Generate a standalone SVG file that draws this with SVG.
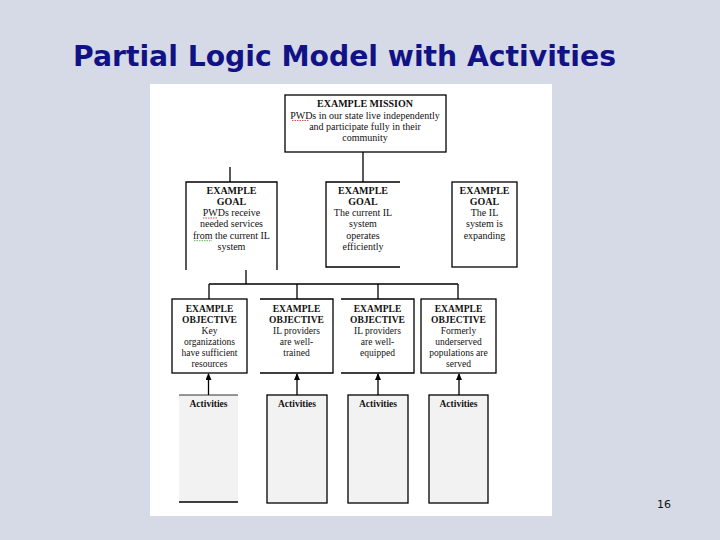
<svg xmlns="http://www.w3.org/2000/svg" width="720" height="540" viewBox="0 0 720 540">
<defs>
<style>
.t{font-family:"Liberation Serif","Times New Roman",serif;font-size:10px;fill:#111;text-anchor:middle}
.b{font-weight:bold}
.o{font-size:9.5px}
.ln{stroke:#000;stroke-width:1.3;fill:none}
.box{stroke:#000;stroke-width:1.3;fill:#fff}
.act{fill:#f2f2f2}
.sq{stroke:#d22;stroke-width:0.8;fill:none;stroke-dasharray:1.5 1}
</style>
<marker id="ah" viewBox="0 0 7 6" refX="6" refY="3" markerWidth="7" markerHeight="6" orient="auto" markerUnits="userSpaceOnUse">
<path d="M0,0 L7,3 L0,6 Z" fill="#000"/>
</marker>
</defs>
<rect x="0" y="0" width="720" height="540" fill="#d6dae6"/>
<text x="73" y="66" font-family="Tahoma,'DejaVu Sans',sans-serif" font-weight="bold" font-size="28" fill="#121287" textLength="543" lengthAdjust="spacingAndGlyphs">Partial Logic Model with Activities</text>
<rect x="150" y="84" width="402" height="432" fill="#fff"/>

<g id="connectors">
<line class="ln" x1="363" y1="152" x2="363" y2="182"/>
<line class="ln" x1="230" y1="167" x2="230" y2="182"/>
<line class="ln" x1="246" y1="270" x2="246" y2="284"/>
<line class="ln" x1="209" y1="284" x2="458" y2="284"/>
<line class="ln" x1="209" y1="284" x2="209" y2="299"/>
<line class="ln" x1="297" y1="284" x2="297" y2="299"/>
<line class="ln" x1="378" y1="284" x2="378" y2="299"/>
<line class="ln" x1="458" y1="284" x2="458" y2="299"/>
<line class="ln" x1="208.5" y1="395" x2="208.5" y2="374" marker-end="url(#ah)"/>
<line class="ln" x1="297" y1="395" x2="297" y2="374" marker-end="url(#ah)"/>
<line class="ln" x1="378" y1="395" x2="378" y2="374" marker-end="url(#ah)"/>
<line class="ln" x1="459" y1="395" x2="459" y2="374" marker-end="url(#ah)"/>
</g>

<g id="mission">
<rect class="box" x="285" y="95" width="161" height="57"/>
<text class="t b" x="365" y="106.5">EXAMPLE MISSION</text>
<text class="t" x="365" y="118.5">PWDs in our state live independently</text>
<text class="t" x="365" y="129.5">and participate fully in their</text>
<text class="t" x="365" y="140.5">community</text>
<path class="sq" d="M292,120.5 H309"/>
</g>

<g id="goal1">
<path class="ln" d="M186,270 V182 H277 V270"/>
<text class="t b" x="231.5" y="193.5">EXAMPLE</text>
<text class="t b" x="231.5" y="204.8">GOAL</text>
<text class="t" x="231.5" y="216.1">PWDs receive</text>
<text class="t" x="231.5" y="227.4">needed services</text>
<text class="t" x="231.5" y="238.7">from the current IL</text>
<text class="t" x="231.5" y="250">system</text>
<path class="sq" d="M203,218 H218"/>
<path class="sq" d="M194,240.7 H212" style="stroke:#3a3"/>
</g>

<g id="goal2">
<path class="ln" d="M400,182 H326 V267 H400"/>
<text class="t b" x="363" y="193.5">EXAMPLE</text>
<text class="t b" x="363" y="204.8">GOAL</text>
<text class="t" x="363" y="216.1">The current IL</text>
<text class="t" x="363" y="227.4">system</text>
<text class="t" x="363" y="238.7">operates</text>
<text class="t" x="363" y="250">efficiently</text>
</g>

<g id="goal3">
<rect class="box" x="452" y="182" width="65" height="85"/>
<text class="t b" x="484.5" y="193.5">EXAMPLE</text>
<text class="t b" x="484.5" y="204.8">GOAL</text>
<text class="t" x="484.5" y="216.1">The IL</text>
<text class="t" x="484.5" y="227.4">system is</text>
<text class="t" x="484.5" y="238.7">expanding</text>
</g>

<g id="objective1">
<rect class="box" x="172" y="299" width="75" height="74"/>
<text class="t b o" x="209.5" y="311.5">EXAMPLE</text>
<text class="t b o" x="209.5" y="322.5">OBJECTIVE</text>
<text class="t o" x="209.5" y="334">Key</text>
<text class="t o" x="209.5" y="345">organizations</text>
<text class="t o" x="209.5" y="356">have sufficient</text>
<text class="t o" x="209.5" y="367">resources</text>
</g>

<g id="objective2">
<path class="ln" d="M260,299 H333 V373 H260"/>
<text class="t b o" x="296.5" y="311.5">EXAMPLE</text>
<text class="t b o" x="296.5" y="322.5">OBJECTIVE</text>
<text class="t o" x="296.5" y="334">IL providers</text>
<text class="t o" x="296.5" y="345">are well-</text>
<text class="t o" x="296.5" y="356">trained</text>
</g>

<g id="objective3">
<path class="ln" d="M341,299 H414 V373 H341"/>
<text class="t b o" x="377.5" y="311.5">EXAMPLE</text>
<text class="t b o" x="377.5" y="322.5">OBJECTIVE</text>
<text class="t o" x="377.5" y="334">IL providers</text>
<text class="t o" x="377.5" y="345">are well-</text>
<text class="t o" x="377.5" y="356">equipped</text>
</g>

<g id="objective4">
<rect class="box" x="421" y="299" width="75" height="74"/>
<text class="t b o" x="458.5" y="311.5">EXAMPLE</text>
<text class="t b o" x="458.5" y="322.5">OBJECTIVE</text>
<text class="t o" x="458.5" y="334">Formerly</text>
<text class="t o" x="458.5" y="345">underserved</text>
<text class="t o" x="458.5" y="356">populations are</text>
<text class="t o" x="458.5" y="367">served</text>
</g>

<g id="activities1">
<rect class="act" x="179" y="395" width="59" height="107"/>
<line class="ln" x1="179" y1="395" x2="238" y2="395" style="stroke-width:0.8"/>
<line class="ln" x1="179" y1="502" x2="238" y2="502"/>
<text class="t b o" x="208.5" y="407">Activities</text>
</g>
<g id="activities2">
<rect class="box act" x="267" y="395" width="60" height="108"/>
<text class="t b o" x="297" y="407">Activities</text>
</g>
<g id="activities3">
<rect class="box act" x="348" y="395" width="60" height="108"/>
<text class="t b o" x="378" y="407">Activities</text>
</g>
<g id="activities4">
<rect class="box act" x="429" y="395" width="59" height="108"/>
<text class="t b o" x="458.5" y="407">Activities</text>
</g>

<text x="664" y="508" font-family="Tahoma,'DejaVu Sans',sans-serif" font-size="11" fill="#111" text-anchor="middle">16</text>
</svg>
